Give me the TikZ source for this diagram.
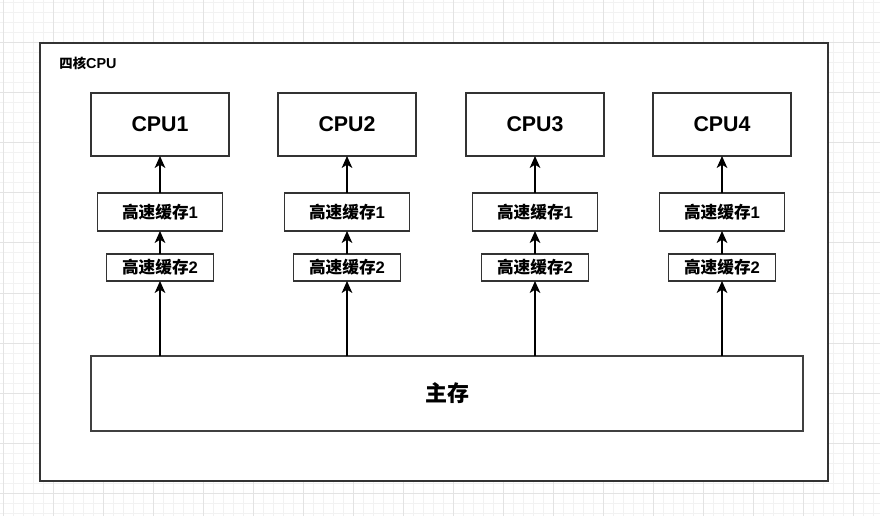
\documentclass[tikz,border=0pt]{standalone}
\usepackage{fontspec}
\setmainfont{Liberation Sans}
\newfontfamily\cjk{Noto Sans CJK SC}
\usetikzlibrary{arrows.meta}
\tikzset{
  minorgrid/.style={draw=black!5, line width=0.75pt},
  majorgrid/.style={draw=black!11, line width=0.75pt},
  outerbox/.style={draw=black!80, line width=1.1pt, fill=white, inner sep=0pt, outer sep=0pt,
    minimum width=591pt, minimum height=328.5pt},
  cpubox/.style={draw=black!80, line width=1pt, fill=white, inner sep=0pt, outer sep=0pt,
    minimum width=103.5pt, minimum height=47.25pt, font=\fontsize{16}{19}\selectfont\bfseries},
  cacheone/.style={draw=black!80, line width=1pt, fill=white, inner sep=0pt, outer sep=0pt,
    minimum width=93.75pt, minimum height=28.5pt, font=\fontsize{12.5}{15}\selectfont\bfseries},
  cachetwo/.style={draw=black!80, line width=1pt, fill=white, inner sep=0pt, outer sep=0pt,
    minimum width=80.25pt, minimum height=20.25pt, font=\fontsize{12.5}{15}\selectfont\bfseries},
  membox/.style={draw=black!75, line width=1.2pt, fill=white, inner sep=0pt, outer sep=0pt,
    minimum width=534pt, minimum height=56.25pt, font=\fontsize{16.5}{20}\selectfont\bfseries},
  titlelabel/.style={inner sep=0pt, font=\bfseries},
  arr/.style={draw=black, line width=0.9pt, -{Stealth[length=9pt, width=8pt, inset=2.5pt]}},
}
\begin{document}
\begin{tikzpicture}[x=0.75pt, y=-0.75pt]
\useasboundingbox (0,0) rectangle (880,516);
\fill[white] (0,0) rectangle (880,516);
% grid
\foreach \x in {3,13,...,873} \draw[minorgrid] (\x,0) -- (\x,516);
\foreach \y in {3,13,...,513} \draw[minorgrid] (0,\y) -- (880,\y);
\foreach \x in {3,53,...,853} \draw[majorgrid] (\x,0) -- (\x,516);
\foreach \y in {43,93,...,493} \draw[majorgrid] (0,\y) -- (880,\y);
% outer box
\node[outerbox] (outer) at (434,262) {};
\node[titlelabel] (title) at (88,63) {{\cjk\fontsize{10}{11}\selectfont 四核}{\fontsize{10.8}{13}\selectfont CPU}};
% columns
\foreach \i/\x in {1/160, 2/347, 3/535, 4/722} {
  \node[cpubox] (cpu\i) at (\x,124.5) {CPU\i};
  \node[cacheone] (ca\i) at (\x,212) {{\cjk 高速缓存}1};
  \node[cachetwo] (cb\i) at (\x,267.5) {{\cjk 高速缓存}2};
}
\node[membox] (mem) at (447,393.5) {\cjk 主存};
% arrows
\foreach \i in {1,2,3,4} {
  \draw[arr] (cb\i.south |- mem.north) -- (cb\i.south);
  \draw[arr] (cb\i.north) -- (ca\i.south);
  \draw[arr] (ca\i.north) -- (cpu\i.south);
}
\end{tikzpicture}
\end{document}
